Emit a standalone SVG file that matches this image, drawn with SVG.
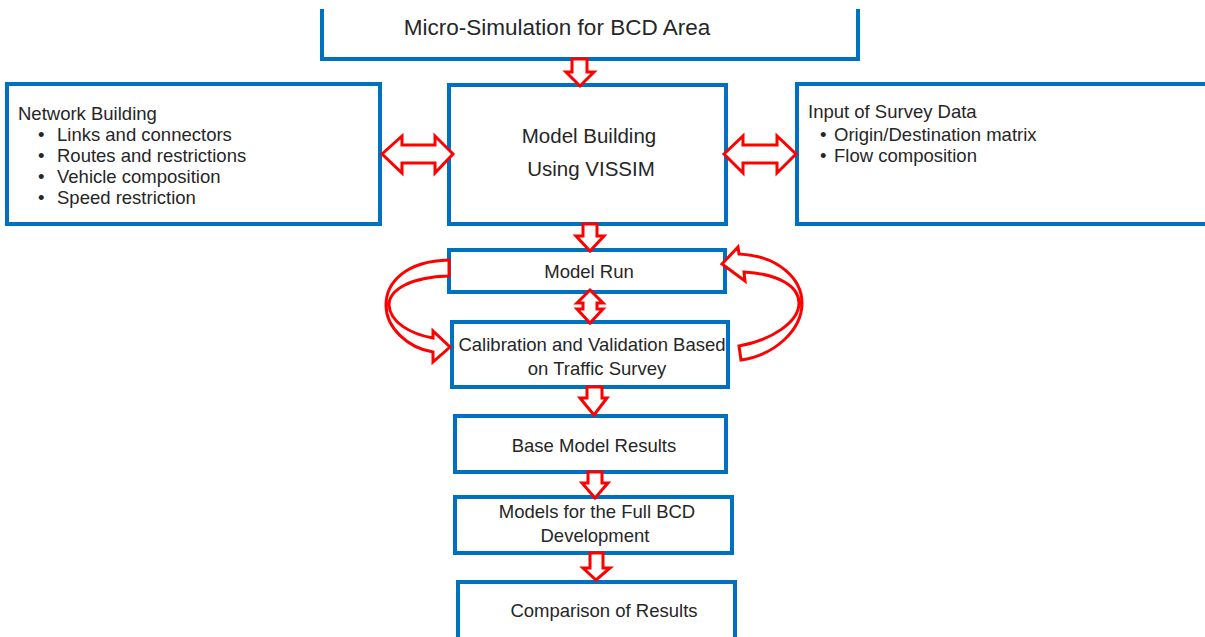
<svg xmlns="http://www.w3.org/2000/svg" width="1205" height="637" viewBox="0 0 1205 637">
<style>
.box{fill:#fff;stroke:#0070C0;stroke-width:4}
.arr{fill:#fff;stroke:#FF0000;stroke-width:3;stroke-linejoin:miter}
text{font-family:"Liberation Sans",Arial,sans-serif;fill:#262626}
.t{font-size:18.5px}
.c{text-anchor:middle}
</style>
<rect width="1205" height="637" fill="#fff"/>
<g id="top">
<path class="box" d="M322,9 V59 H858 V9" fill="none"/>
<text x="557" y="35" class="c" style="font-size:22.5px">Micro-Simulation for BCD Area</text>
</g>
<g id="network">
<rect class="box" x="7" y="84" width="373" height="140"/>
<text class="t" x="18" y="120">Network Building</text>
<text class="t" x="38" y="141">•</text><text class="t" x="57" y="141">Links and connectors</text>
<text class="t" x="38" y="162">•</text><text class="t" x="57" y="162">Routes and restrictions</text>
<text class="t" x="38" y="183">•</text><text class="t" x="57" y="183">Vehicle composition</text>
<text class="t" x="38" y="204">•</text><text class="t" x="57" y="204">Speed restriction</text>
</g>
<g id="model">
<rect class="box" x="449" y="85" width="277" height="139"/>
<text x="589" y="143" class="c" style="font-size:20.5px">Model Building</text>
<text x="591" y="176" class="c" style="font-size:20.5px">Using VISSIM</text>
</g>
<g id="survey">
<rect class="box" x="797" y="84" width="420" height="140"/>
<text class="t" x="808" y="118">Input of Survey Data</text>
<text class="t" x="820" y="141">•</text><text class="t" x="834" y="141">Origin/Destination matrix</text>
<text class="t" x="820" y="162">•</text><text class="t" x="834" y="162">Flow composition</text>
</g>
<g id="run">
<rect class="box" x="449" y="250" width="276" height="42"/>
<text class="t c" x="589" y="278">Model Run</text>
</g>
<g id="calib">
<rect class="box" x="452" y="322" width="276" height="65"/>
<text class="t c" x="592" y="351">Calibration and Validation Based</text>
<text class="t c" x="597" y="375">on Traffic Survey</text>
</g>
<g id="base">
<rect class="box" x="455" y="416" width="271" height="56"/>
<text class="t c" x="594" y="452">Base Model Results</text>
</g>
<g id="full">
<rect class="box" x="455" y="497" width="277" height="56"/>
<text class="t c" x="597" y="518">Models for the Full BCD</text>
<text class="t c" x="595" y="542">Development</text>
</g>
<g id="compare">
<rect class="box" x="458" y="582" width="277" height="60"/>
<text class="t c" x="604" y="617">Comparison of Results</text>
</g>
<g id="connectors">
<path class="arr" d="M572,59 H587 V72 H594 L580,86 L566,72 H572 Z"/>
<path class="arr" d="M583,224 H597 V236 H604 L590,251 L576,236 H583 Z"/>
<path class="arr" d="M587,387 H602 V398 H607 L594,415 L580,398 H587 Z"/>
<path class="arr" d="M588,472 H602 V483 H608 L595,498 L582,483 H588 Z"/>
<path class="arr" d="M590,553 H603 V568 H610 L596,580 L583,568 H590 Z"/>
<path class="arr" d="M590,290 L603,303 H597 V309 H603 L590,323 L577,309 H583 V303 H577 Z"/>
<path class="arr" d="M382,154 L402,136 V145 H435 V136 L453,154 L435,173 V163 H402 V173 Z"/>
<path class="arr" d="M724,154 L743,136 V145 H777 V136 L796,154 L777,173 V163 H743 V173 Z"/>
<path class="arr" d="M449,260 C405,261 386,283 386,305 C386,328 408,348 433,352 L433,362 L450,347 L433,331 L433,338 C410,334 390,322 389,305 C389,290 410,277 449,276 Z"/>
<path class="arr" d="M722,264 L738,247 L739,254 C780,256 802,280 802,303 C802,330 775,355 741,360 L739,346 C772,340 799,322 799,303 C799,287 780,274 744,272 L745,281 Z"/>
</g>
</svg>
